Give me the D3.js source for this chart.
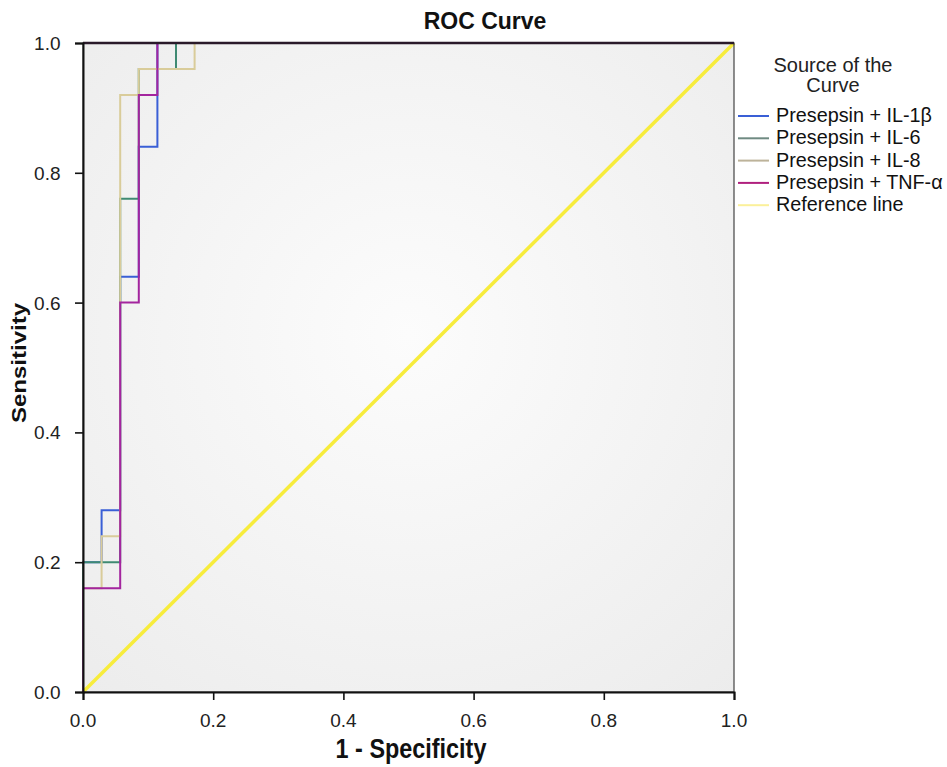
<!DOCTYPE html>
<html><head><meta charset="utf-8">
<script src="https://cdn.jsdelivr.net/npm/d3@7"></script>
<style>body{margin:0;background:#fff;} text{font-family:"Liberation Sans",Arial,sans-serif;}</style>
</head><body>
<script>
const title = "ROC Curve";
const xLabel = "1 - Specificity";
const yLabel = "Sensitivity";
const tickValues = [0, 0.2, 0.4, 0.6, 0.8, 1.0];
const legendTitle = ["Source of the", "Curve"];
const seriesNames = ["Presepsin + IL-1β", "Presepsin + IL-6", "Presepsin + IL-8", "Presepsin + TNF-α"];
const seriesColors = ["#3a5fd6", "#3f8a72", "#d9cc9a", "#a3259e"];
const legendColors = ["#3a5fd6", "#6f8a82", "#bdb39a", "#b0207e"];
const refColor = "#f7ec3c";
const refLegendColor = "#fbf09a";
// Step points: [1 - specificity, sensitivity] (35 negatives, 25 positives)
const il1b = [[0,0],[0,0.2],[1/35,0.2],[1/35,0.28],[2/35,0.28],[2/35,0.64],[3/35,0.64],[3/35,0.84],[4/35,0.84],[4/35,1],[1,1]];
const il6  = [[0,0],[0,0.2],[2/35,0.2],[2/35,0.76],[3/35,0.76],[3/35,0.96],[5/35,0.96],[5/35,1],[1,1]];
const il8  = [[0,0],[0,0.16],[1/35,0.16],[1/35,0.24],[2/35,0.24],[2/35,0.92],[3/35,0.92],[3/35,0.96],[6/35,0.96],[6/35,1],[1,1]];
const tnfa = [[0,0],[0,0.16],[2/35,0.16],[2/35,0.6],[3/35,0.6],[3/35,0.92],[4/35,0.92],[4/35,1],[1,1]];
const seriesData = [il1b, il6, il8, tnfa];
const refLine = [[0,0],[1,1]];

const W = 947, H = 767;
const svg = d3.select("body").append("svg").attr("width", W).attr("height", H);
const x = d3.scaleLinear().domain([0,1]).range([83, 734]);
const y = d3.scaleLinear().domain([0,1]).range([692, 43]);

const defs = svg.append("defs");
const rg = defs.append("radialGradient").attr("id","bg").attr("cx","50%").attr("cy","45%").attr("r","75%");
rg.append("stop").attr("offset","0%").attr("stop-color","#fcfcfc");
rg.append("stop").attr("offset","100%").attr("stop-color","#ececec");

svg.append("rect").attr("x", x(0)).attr("y", y(1)).attr("width", x(1)-x(0)).attr("height", y(0)-y(1))
  .attr("fill", "url(#bg)");

const line = d3.line().x(d => x(d[0])).y(d => y(d[1]));

svg.append("path").datum(refLine).attr("d", line).attr("fill","none").attr("stroke", refColor).attr("stroke-width", 3.5);

seriesData.forEach((s, i) => {
  svg.append("path").datum(s).attr("d", line).attr("fill","none")
    .attr("stroke", seriesColors[i]).attr("stroke-width", 2);
});

// frame
svg.append("rect").attr("x", x(0)).attr("y", y(1)).attr("width", x(1)-x(0)).attr("height", y(0)-y(1))
  .attr("fill","none").attr("stroke","#444").attr("stroke-width",1.2);
svg.append("line").attr("x1",x(0)).attr("x2",x(1)).attr("y1",y(1)).attr("y2",y(1)).attr("stroke","#2a1a2a").attr("stroke-width",2.5);

// axes (lines only; labels drawn below)
const xAxis = svg.append("g").attr("transform", `translate(0,${y(0)})`)
  .call(d3.axisBottom(x).tickValues(tickValues).tickFormat("").tickSize(8));
const yAxis = svg.append("g").attr("transform", `translate(${x(0)},0)`)
  .call(d3.axisLeft(y).tickValues(tickValues).tickFormat("").tickSize(8));
[xAxis, yAxis].forEach(g => {
  g.select(".domain").attr("stroke","#111").attr("stroke-width",2);
  g.selectAll(".tick line").attr("stroke","#111").attr("stroke-width",1.6);
});
const fmt = d3.format(".1f");
svg.append("g").selectAll("text").data(tickValues).join("text")
  .attr("x", d => x(d)).attr("y", 727).attr("text-anchor","middle")
  .attr("font-size",19).attr("fill","#222").text(fmt);
svg.append("g").selectAll("text").data(tickValues).join("text")
  .attr("x", 60.5).attr("y", d => y(d) + 7).attr("text-anchor","end")
  .attr("font-size",19).attr("fill","#222").text(fmt);

// titles
svg.append("text").attr("x", 485).attr("y", 29).attr("text-anchor","middle")
  .attr("font-size",23).attr("font-weight","bold").attr("fill","#111").text(title);
svg.append("text").attr("transform","translate(411,758) scale(1,1.15)").attr("text-anchor","middle")
  .attr("font-size",23.4).attr("font-weight","bold").attr("fill","#111").text(xLabel);
svg.append("text").attr("transform","translate(26,363) rotate(-90) scale(1.2,1)").attr("text-anchor","middle")
  .attr("font-size",20).attr("font-weight","bold").attr("fill","#111").text(yLabel);

// legend title as one text block
const lt = svg.append("text").attr("x", 833).attr("y", 72).attr("text-anchor","middle")
  .attr("font-size",20).attr("fill","#222");
legendTitle.forEach((t, i) => {
  lt.append("tspan").attr("x", 833).attr("dy", i === 0 ? 0 : 20).text(t);
});
const legNames = seriesNames.concat(["Reference line"]);
const legColors = legendColors.concat([refLegendColor]);
legNames.forEach((n, i) => {
  const cy = 116 + i*22.3;
  svg.append("line").attr("x1",738).attr("x2",769).attr("y1",cy).attr("y2",cy)
    .attr("stroke", legColors[i]).attr("stroke-width", 2);
  svg.append("text").attr("x",776).attr("y",cy+6).attr("font-size",19.8).attr("fill","#111").text(n);
});
</script>
</body></html>
